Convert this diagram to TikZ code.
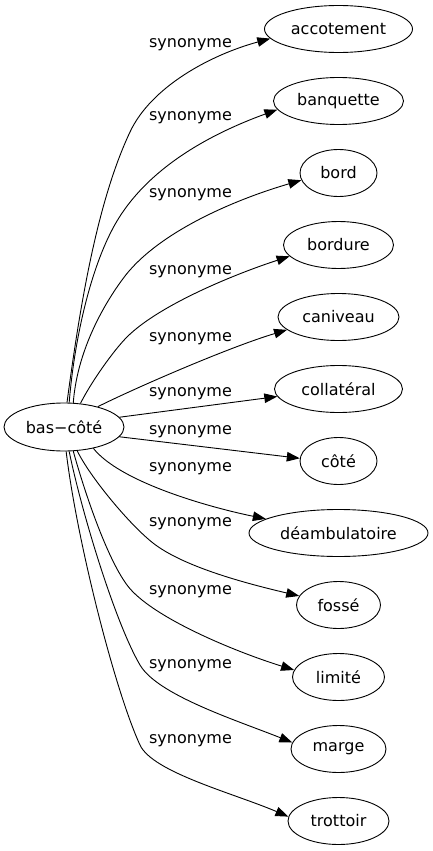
\documentclass[tikz,border=0pt]{standalone}
\usepackage{fontspec}
\setmainfont{DejaVu Sans}
\usetikzlibrary{arrows.meta,shapes.geometric}
\begin{document}
\begin{tikzpicture}[x=1pt,y=-1pt,
  every node/.style={font=\fontsize{16}{19}\selectfont},
  word/.style={draw, ellipse, inner sep=0pt, minimum height=47pt, line width=0.9pt},
  lab/.style={inner sep=0pt},
  syn/.style={line width=0.9pt, -{Triangle[length=13pt,width=9.5pt]}}]
\useasboundingbox (0,0) rectangle (433,851);
% nodes
\node[word, minimum width=120pt, minimum height=48pt] (bas) at (64,427) {bas−côté};
\node[word, minimum width=148pt] (acc) at (338.5,29) {accotement};
\node[word, minimum width=130pt] (ban) at (338.5,101) {banquette};
\node[word, minimum width=77pt] (bord) at (338.5,173) {bord};
\node[word, minimum width=110pt] (bdr) at (338.5,245) {bordure};
\node[word, minimum width=121pt] (can) at (338.5,317) {caniveau};
\node[word, minimum width=128pt] (col) at (338.5,389) {collatéral};
\node[word, minimum width=77pt] (cote) at (338.5,461) {côté};
\node[word, minimum width=179pt] (dea) at (338.5,533) {déambulatoire};
\node[word, minimum width=84pt] (fos) at (338.5,605) {fossé};
\node[word, minimum width=92pt] (lim) at (338.5,677) {limité};
\node[word, minimum width=95pt] (mar) at (338.5,749) {marge};
\node[word, minimum width=101pt] (tro) at (338.5,821) {trottoir};
% labels
\node[lab] (l1) at (190.5,45) {synonyme};
\node[lab] (l2) at (190.5,118) {synonyme};
\node[lab] (l3) at (190.5,195) {synonyme};
\node[lab] (l4) at (190.5,272) {synonyme};
\node[lab] (l5) at (190.5,339) {synonyme};
\node[lab] (l6) at (190.5,394) {synonyme};
\node[lab] (l7) at (190.5,432) {synonyme};
\node[lab] (l8) at (190.5,469) {synonyme};
\node[lab] (l9) at (190.5,524) {synonyme};
\node[lab] (l10) at (190.5,592) {synonyme};
\node[lab] (l11) at (190.5,666) {synonyme};
\node[lab] (l12) at (190.5,741) {synonyme};
% edges
\draw[syn] (bas.83) .. controls (79,313) and (96,204) .. (130,132)
                    .. controls (151,87) and (210,55) .. (acc.188);
\draw[syn] (bas.78) .. controls (74,343) and (89,274) .. (112,230)
                    .. controls (144,168) and (213,133) .. (ban.188);
\draw[syn] (bas.69) .. controls (77,353) and (101.5,308) .. (122,280)
                    .. controls (157,231) and (240,198) .. (bord.191);
\draw[syn] (bas.55) .. controls (90,384) and (113,351) .. (127,337)
                    .. controls (159,305) and (235,274) .. (bdr.193);
\draw[syn] (bas.31) .. controls (133,389) and (227.6,347.7) .. (can.194);
\draw[syn] (bas.10) -- (col.187);
\draw[syn] (bas.-10) -- (cote.176);
\draw[syn] (bas.-36) .. controls (120,482) and (208,507) .. (dea.169);
\draw[syn] (bas.-61) .. controls (90,477) and (129.4,524.5) .. (153,543)
                     .. controls (184.4,567.7) and (250.7,584.5) .. (fos.167);
\draw[syn] (bas.-69) .. controls (83.8,489.4) and (106.2,556.9) .. (127,585)
                     .. controls (150.8,617.2) and (236,652) .. (lim.171);
\draw[syn] (bas.-78) .. controls (81,509.8) and (114.75,621.9) .. (140,665)
                     .. controls (157.7,695.2) and (236.9,720.4) .. (mar.172);
\draw[syn] (bas.-85) .. controls (76.8,540.4) and (114.8,690.4) .. (140,745)
                     .. controls (152.6,772.3) and (233.8,793.3) .. (tro.175);
\end{tikzpicture}
\end{document}
